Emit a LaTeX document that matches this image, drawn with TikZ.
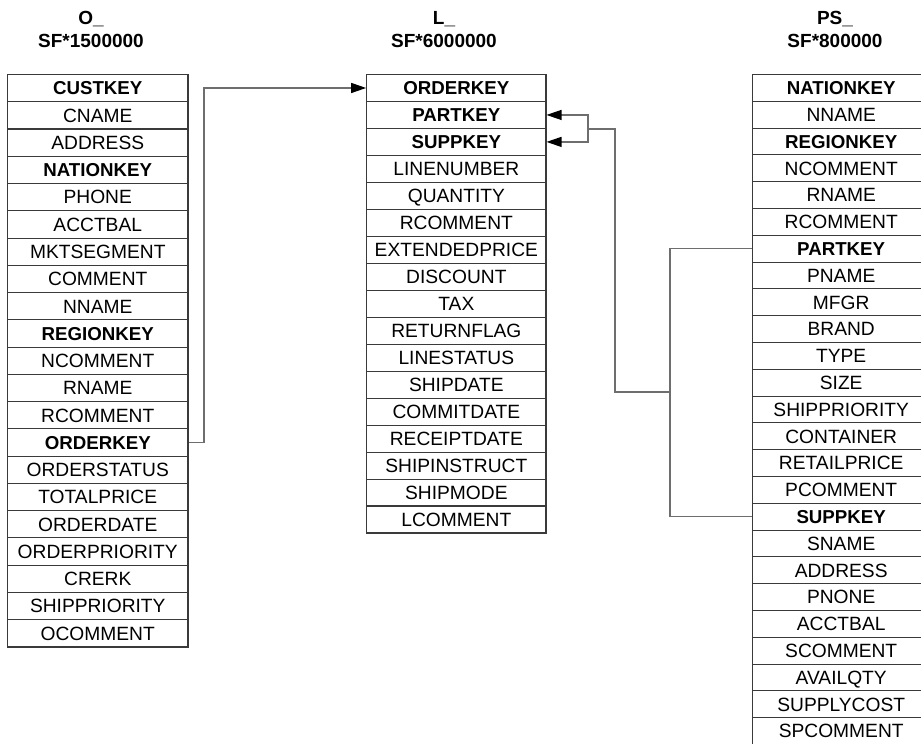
\documentclass[tikz,border=0pt]{standalone}
\usepackage{fontspec}
\setmainfont{Liberation Sans}
\usetikzlibrary{arrows.meta}
\definecolor{tline}{HTML}{3A3A3A}
\definecolor{cline}{HTML}{6E6E6E}
\tikzset{
  cell/.style={draw=tline, line width=1.1pt, inner sep=0pt, anchor=center,
    text height=13.6pt, text depth=0pt,
    font=\fontsize{19.2}{20}\selectfont},
  keyf/.style={font=\fontsize{18.7}{20}\selectfont\bfseries},
  plainf/.style={},
  hdr/.style={font=\fontsize{19}{21}\selectfont\bfseries, inner sep=0pt, align=center},
  conn/.style={draw=cline, line width=1.2pt},
  arr/.style={conn, -{Triangle[length=15pt,width=10pt,color=black]}}
}
\begin{document}
\begin{tikzpicture}[x=1pt,y=-1pt]
\useasboundingbox (0,0) rectangle (921,744);
% headers
\node[hdr] (ho1) at (91,19) {O\_};
\node[hdr] (ho2) at (91,41) {SF*1500000};
\node[hdr] (hl1) at (444,19) {L\_};
\node[hdr] (hl2) at (444,41) {SF*6000000};
\node[hdr] (hp1) at (835,19) {PS\_};
\node[hdr] (hp2) at (835,41) {SF*800000};
% left table
\foreach \t/\f [count=\i] in {CUSTKEY/keyf, CNAME/plainf, ADDRESS/plainf, NATIONKEY/keyf,
  PHONE/plainf, ACCTBAL/plainf, MKTSEGMENT/plainf, COMMENT/plainf, NNAME/plainf,
  REGIONKEY/keyf, NCOMMENT/plainf, RNAME/plainf, RCOMMENT/plainf, ORDERKEY/keyf,
  ORDERSTATUS/plainf, TOTALPRICE/plainf, ORDERDATE/plainf, ORDERPRIORITY/plainf,
  CRERK/plainf, SHIPPRIORITY/plainf, OCOMMENT/plainf}
  \node[cell,\f, minimum width=180.5pt, minimum height=27.26pt] (o\i)
    at (97.75, {74.5+(\i-0.5)*27.26}) {\t};
% middle table
\foreach \t/\f [count=\i] in {ORDERKEY/keyf, PARTKEY/keyf, SUPPKEY/keyf, LINENUMBER/plainf,
  QUANTITY/plainf, RCOMMENT/plainf, EXTENDEDPRICE/plainf, DISCOUNT/plainf, TAX/plainf,
  RETURNFLAG/plainf, LINESTATUS/plainf, SHIPDATE/plainf, COMMITDATE/plainf,
  RECEIPTDATE/plainf, SHIPINSTRUCT/plainf, SHIPMODE/plainf, LCOMMENT/plainf}
  \node[cell,\f, minimum width=179.3pt, minimum height=26.97pt] (l\i)
    at (456.35, {74.5+(\i-0.5)*26.97}) {\t};
% right table
\foreach \t/\f [count=\i] in {NATIONKEY/keyf, NNAME/plainf, REGIONKEY/keyf, NCOMMENT/plainf,
  RNAME/plainf, RCOMMENT/plainf, PARTKEY/keyf, PNAME/plainf, MFGR/plainf, BRAND/plainf,
  TYPE/plainf, SIZE/plainf, SHIPPRIORITY/plainf, CONTAINER/plainf, RETAILPRICE/plainf,
  PCOMMENT/plainf, SUPPKEY/keyf, SNAME/plainf, ADDRESS/plainf, PNONE/plainf,
  ACCTBAL/plainf, SCOMMENT/plainf, AVAILQTY/plainf, SUPPLYCOST/plainf, SPCOMMENT/plainf}
  \node[cell,\f, minimum width=177pt, minimum height=26.8pt] (p\i)
    at (841.2, {74.5+(\i-0.5)*26.8}) {\t};
% connectors
\coordinate (a1) at (204,0);
\draw[arr] (o14.east) -| (a1 |- o14.east) |- (l1.west);
\coordinate (j1) at (670,392);
\coordinate (j2) at (615,129);
\coordinate (j3) at (588,129);
\draw[conn] (p7.west) -| (j1);
\draw[conn] (p17.west) -| (j1);
\draw[conn] (j1) -| (j2) -- (j3);
\draw[arr] (j3) |- (l2.east);
\draw[arr] (j3) |- (l3.east);
\end{tikzpicture}
\end{document}
